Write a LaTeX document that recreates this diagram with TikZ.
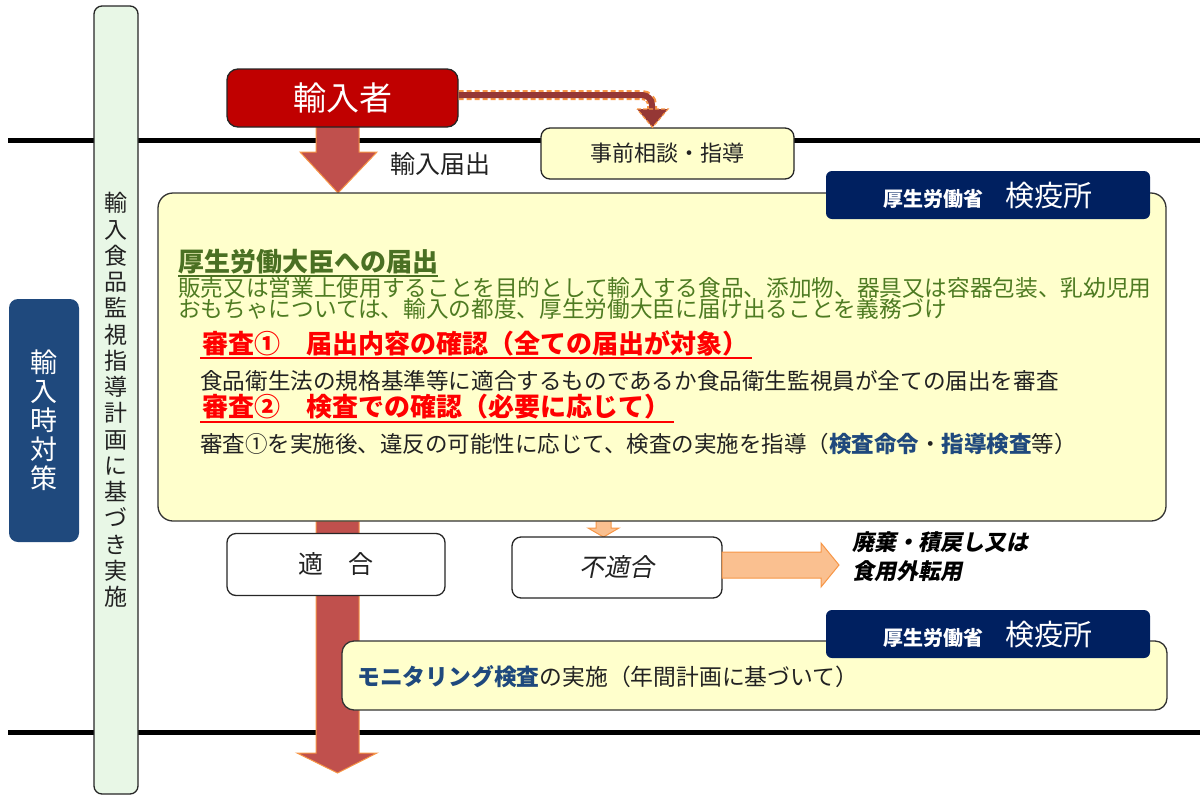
\documentclass[tikz,border=0pt]{standalone}
\usepackage{fontspec}
\setmainfont{Noto Sans CJK JP}
\newfontfamily\jpit[FakeSlant=0.2]{Noto Sans CJK JP}
\usetikzlibrary{calc}
\definecolor{navy}{HTML}{002060}
\definecolor{leftblue}{HTML}{1F497D}
\definecolor{redbox}{HTML}{C00000}
\definecolor{arrowred}{HTML}{C0504D}
\definecolor{arrowedge}{HTML}{F79646}
\definecolor{lightorange}{HTML}{FAC090}
\definecolor{paleyellow}{HTML}{FFFFCC}
\definecolor{greenbar}{HTML}{E8F7E6}
\definecolor{greentxt}{HTML}{4E7B22}
\definecolor{greentitle}{HTML}{4A7023}
\definecolor{bluetxt}{HTML}{1F497D}
\definecolor{dashred}{HTML}{953735}
\definecolor{txtblack}{HTML}{222222}
\begin{document}
\begin{tikzpicture}[x=1pt,y=-1pt,
  box/.style={draw=black!85, line width=1.3pt, rounded corners=9pt, inner sep=0pt},
  hdr/.style={fill=navy, rounded corners=6pt, minimum width=324pt, minimum height=48pt, text=white, inner sep=0pt},
  blockred/.style={fill=arrowred, draw=arrowedge, line width=1pt},
  blockorange/.style={fill=lightorange, draw=arrowedge, line width=1pt},
  sepline/.style={line width=5pt, black},
  txt/.style={anchor=west, inner sep=0pt},
  ulred/.style={red, line width=1.5pt},
  ulgreen/.style={greentitle, line width=1.5pt}]
\useasboundingbox (0,0) rectangle (1200,796);

% separator lines
\coordinate (l1a) at (8,140); \coordinate (l1b) at (1200,140);
\coordinate (l2a) at (8,732); \coordinate (l2b) at (1200,732);
\draw[sepline] (l1a) -- (l1b);
\draw[sepline] (l2a) -- (l2b);

% vertical green bar
\node[box, fill=greenbar, rounded corners=8pt, minimum width=44pt, minimum height=788pt] (bar) at (116,400) {};
\node[align=center, text=txtblack, font=\fontsize{23}{26.25}\selectfont, inner sep=0pt] (bartxt) at (116,400)
 {輸\\入\\食\\品\\監\\視\\指\\導\\計\\画\\に\\基\\づ\\き\\実\\施};

% left blue box
\node[fill=leftblue, rounded corners=9pt, minimum width=70pt, minimum height=243pt, inner sep=0pt] (side) at (44,420.5) {};
\node[align=center, text=white, font=\fontsize{27}{29}\selectfont, inner sep=0pt] (sidetxt) at (44,420.5)
 {輸\\入\\時\\対\\策};

% top block arrow
\draw[blockred] (316,126) -- (359,126) -- (359,152) -- (377,152) -- (338,193) -- (300,152) -- (316,152) -- cycle;
% bottom block arrow
\draw[blockred] (316,521) -- (359,521) -- (359,753) -- (377,753) -- (337.5,773) -- (297,753) -- (316,753) -- cycle;
% small orange arrow
\draw[blockorange] (596,521) -- (611,521) -- (611,528) -- (619,528) -- (603.5,537) -- (588,528) -- (596,528) -- cycle;

% importer
\node[box, fill=redbox, rounded corners=11pt, minimum width=231pt, minimum height=58pt, text=white, font=\fontsize{33}{36}\selectfont] (ynj) at (342.5,98) {輸入者};
\node[txt, text=txtblack, font=\fontsize{25}{28}\selectfont] (todoke) at (390,164) {輸入届出};

% prior consultation
\node[box, fill=paleyellow, minimum width=253pt, minimum height=51pt, text=txtblack, font=\fontsize{22}{26}\selectfont] (jizen) at (667.5,153.5) {事前相談・指導};

% dashed arrow
\coordinate (d0) at ($(ynj.east)+(0,-3)$);
\coordinate (d1) at (652,95);
\coordinate (d2) at (652,111);
\draw[arrowedge, line width=10pt, dash pattern=on 5pt off 3pt, rounded corners=10pt] (d0) -- (d1) -- (d2);
\draw[dashred, line width=6pt, rounded corners=10pt] (d0) -- (d1) -- (d2);
\draw[fill=dashred, draw=arrowedge, line width=1.2pt, dash pattern=on 4pt off 2pt] (637,109) -- (668,109) -- ($(jizen.north)+(-15,0)$) -- cycle;

% big box
\node[box, fill=paleyellow, draw=black!80, rounded corners=15pt, minimum width=1008pt, minimum height=328pt] (big) at (662,357) {};
\node[hdr] (hdr1) at (988,195) {};
\node[text=white, inner sep=0pt, anchor=base] (hdr1t) at (988,206) {{\bfseries\fontsize{20}{24}\selectfont 厚生労働省}\hspace{22pt}{\fontsize{29}{32}\selectfont 検疫所}};

\node[txt, text=greentitle, font=\bfseries\fontsize{26}{28}\selectfont] (t1) at (178,262) {厚生労働大臣への届出};
\draw[ulgreen] ($(t1.south west)+(0,1.5)$) -- ($(t1.south east)+(0,1.5)$);
\node[txt, text=greentxt, font=\fontsize{22.65}{21}\selectfont, align=left] (t2) at (178,298.5)
 {販売又は営業上使用することを目的として輸入する食品、添加物、器具又は容器包装、乳幼児用\\おもちゃについては、輸入の都度、厚生労働大臣に届け出ることを義務づけ};
\node[txt, text=red, font=\bfseries\fontsize{26}{28}\selectfont] (s1) at (202,343) {審査①　届出内容の確認（全ての届出が対象）};
\draw[ulred] ($(s1.south west)+(-2,2)$) -- ($(s1.south east)+(4,2)$);
\node[txt, text=txtblack, font=\fontsize{22.6}{26}\selectfont] (s1t) at (200,381) {食品衛生法の規格基準等に適合するものであるか食品衛生監視員が全ての届出を審査};
\node[txt, text=red, font=\bfseries\fontsize{26}{28}\selectfont] (s2) at (202,407) {審査②　検査での確認（必要に応じて）};
\draw[ulred] ($(s2.south west)+(-2,2)$) -- ($(s2.south east)+(4,2)$);
\node[txt, text=txtblack, font=\fontsize{22.5}{26}\selectfont] (s2t) at (200,444) {審査①を実施後、違反の可能性に応じて、検査の実施を指導（\textcolor{bluetxt}{\bfseries 検査命令}・\textcolor{bluetxt}{\bfseries 指導検査}等）};

% results
\node[box, fill=white, minimum width=218pt, minimum height=62pt, text=txtblack, font=\fontsize{25}{28}\selectfont] (ok) at (336,564.5) {適　合};
\node[box, fill=white, minimum width=210pt, minimum height=61pt, text=txtblack, font=\jpit\fontsize{25}{28}\selectfont] (ng) at (617,567.5) {不適合};
\draw[blockorange] (722,552) -- (821,552) -- (821,543) -- (839,565) -- (821,587) -- (821,578) -- (722,578) -- cycle;
\node[txt, anchor=north west, text=black, align=left, font=\jpit\bfseries\fontsize{22}{29}\selectfont] (dispose) at (852,531) {廃棄・積戻し又は\\食用外転用};

% monitoring
\node[box, fill=paleyellow, draw=black!80, rounded corners=12pt, minimum width=825pt, minimum height=69pt] (mon) at (754.5,675.5) {};
\node[hdr] (hdr2) at (988,634) {};
\node[text=white, inner sep=0pt, anchor=base] (hdr2t) at (988,645) {{\bfseries\fontsize{20}{24}\selectfont 厚生労働省}\hspace{22pt}{\fontsize{29}{32}\selectfont 検疫所}};
\node[txt, text=txtblack, font=\fontsize{22.8}{26}\selectfont] (mont) at (357,677) {\textcolor{bluetxt}{\bfseries モニタリング検査}の実施（年間計画に基づいて）};
\end{tikzpicture}
\end{document}
